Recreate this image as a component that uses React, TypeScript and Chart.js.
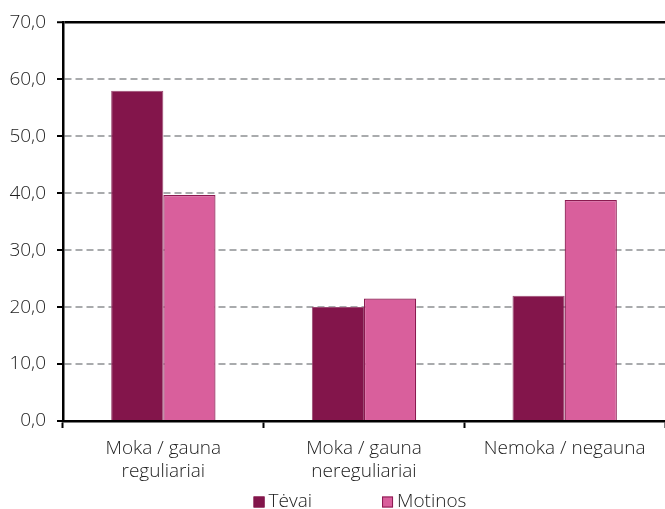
import React, { useEffect, useRef } from "react";
import { Chart, registerables } from "chart.js";
Chart.register(...registerables);

const categories: string[][] = [
  ["Moka / gauna", "reguliariai"],
  ["Moka / gauna", "nereguliariai"],
  ["Nemoka / negauna"],
];
const seriesNames = ["Tėvai", "Motinos"];
const tevai = [58.0, 20.0, 22.0];
const motinos = [39.7, 21.5, 38.8];
const yMin = 0;
const yMax = 70;
const yStep = 10;

const FONT = "'Open Sans', 'Noto Sans', sans-serif";
const TEXT = "#222222";
const FS = 19;
const colors = ["#83154b", "#d95f9c"];
const borders = ["#9a4a72", "#8a1a50"];

const legendPlugin = {
  id: "customLegend",
  afterDraw(chart: any) {
    const ctx = chart.ctx;
    const area = chart.chartArea;
    const ds = chart.data.datasets;
    ctx.save();
    ctx.font = `300 ${FS}px ${FONT}`;
    const box = 11;
    const gapBoxText = 4;
    const gapItems = 70;
    const widths = ds.map((d: any) => ctx.measureText(d.label).width);
    let total = 0;
    widths.forEach((w: number, i: number) => {
      total += box + gapBoxText + w + (i < widths.length - 1 ? gapItems : 0);
    });
    const cy = chart.height - 7;
    let x = (area.left + area.right) / 2 - total / 2 - 4;
    ds.forEach((d: any, i: number) => {
      ctx.fillStyle = d.backgroundColor;
      ctx.fillRect(x, cy - box / 2, box, box);
      ctx.strokeStyle = i === 0 ? d.backgroundColor : borders[1];
      ctx.lineWidth = 1;
      ctx.strokeRect(x + 0.5, cy - box / 2 + 0.5, box - 1, box - 1);
      ctx.fillStyle = TEXT;
      ctx.textBaseline = "middle";
      ctx.textAlign = "left";
      ctx.fillText(d.label, x + box + gapBoxText, cy);
      x += box + gapBoxText + widths[i] + gapItems;
    });
    ctx.restore();
  },
};

export default function App() {
  const ref = useRef<HTMLCanvasElement | null>(null);
  useEffect(() => {
    if (!ref.current) return;
    const chart = new Chart(ref.current, {
      type: "bar",
      data: {
        labels: categories,
        datasets: [
          {
            label: seriesNames[0],
            data: tevai,
            backgroundColor: colors[0],
            borderColor: borders[0],
            borderWidth: 1,
            categoryPercentage: 0.52,
            barPercentage: 1,
          },
          {
            label: seriesNames[1],
            data: motinos,
            backgroundColor: colors[1],
            borderColor: borders[1],
            borderWidth: 1.2,
            categoryPercentage: 0.52,
            barPercentage: 1,
          },
        ],
      },
      plugins: [legendPlugin],
      options: {
        animation: false,
        responsive: false,
        maintainAspectRatio: false,
        layout: { padding: { top: 19, right: 0, left: 0, bottom: 20 } },
        plugins: {
          tooltip: { enabled: false },
          legend: { display: false },
        },
        scales: {
          x: {
            grid: {
              drawOnChartArea: false,
              drawTicks: true,
              tickLength: 7,
              tickColor: "#000",
              tickWidth: 2,
              offset: true,
            },
            border: { display: true, color: "#000", width: 2.5 },
            ticks: {
              font: { family: FONT, size: FS, weight: 300, lineHeight: 1.21 },
              color: TEXT,
              padding: 9,
              maxRotation: 0,
              autoSkip: false,
            },
            afterFit: (s: any) => {
              s.height = 68;
            },
          },
          y: {
            min: yMin,
            max: yMax,
            ticks: {
              stepSize: yStep,
              font: { family: FONT, size: FS, weight: 300 },
              color: TEXT,
              padding: 11,
              callback: (v: any) => Number(v).toFixed(1).replace(".", ","),
            },
            grid: {
              color: (ctx: any) => (ctx.tick && ctx.tick.value === yMax ? "#000" : "#a9abad"),
              lineWidth: (ctx: any) => (ctx.tick && ctx.tick.value === yMax ? 2.5 : 2),
              drawTicks: true,
              tickLength: 6,
              tickColor: "#000",
              tickWidth: 2,
              tickBorderDash: [],
            },
            border: {
              display: true,
              color: "#000",
              width: 2.5,
              dash: (ctx: any) => (ctx.tick && ctx.tick.value !== yMax ? [7, 4] : []),
            },
            afterFit: (s: any) => {
              s.width = 63;
            },
          },
        },
      },
    });
    return () => chart.destroy();
  }, []);
  return (
    <div style={{ position: "fixed", left: 0, top: 0, width: 665, height: 509, background: "#fff" }}>
      <canvas ref={ref} width={665} height={509} style={{ width: 665, height: 509 }} />
    </div>
  );
}
